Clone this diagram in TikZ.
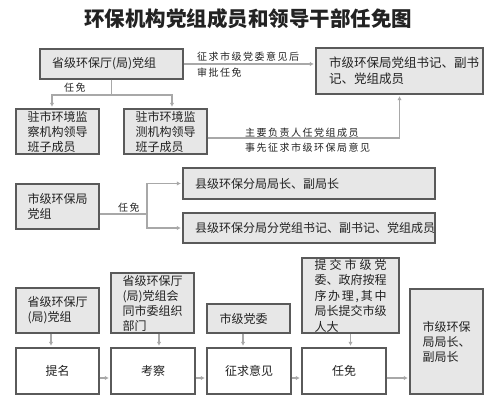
\documentclass[tikz,border=0pt]{standalone}
\usepackage{fontspec}
\newfontfamily\cjk{Noto Sans CJK SC}
\newfontfamily\cjklbl[LetterSpace=15]{Noto Sans CJK SC}
\usetikzlibrary{arrows.meta,calc}
\definecolor{ink}{HTML}{222222}
\definecolor{boxline}{HTML}{5A5A5A}
\definecolor{boxfill}{HTML}{E7E7E7}
\definecolor{linkgray}{HTML}{A8A8A8}
\tikzset{
  graybox/.style={rectangle, draw=boxline, line width=1.4pt, fill=boxfill, align=left, inner sep=0pt, text=ink, font=\cjk\fontsize{12}{15}\selectfont},
  whitebox/.style={graybox, fill=white, align=center},
  wire/.style={draw=linkgray, line width=1.3pt},
  link/.style={wire, -{Latex[length=4pt,width=4.5pt]}, shorten >=1.5pt},
  tag/.style={font=\cjklbl\fontsize{10}{12}\selectfont, text=ink, inner sep=0pt, anchor=west}
}

\begin{document}
\begin{tikzpicture}[x=1pt, y=-1pt]
  \useasboundingbox (0,0) rectangle (500,411);
  \node[font=\cjk\bfseries\fontsize{20.5}{24}\selectfont, text=ink] (title) at (248,19) {环保机构党组成员和领导干部任免图};

  % provincial level
  \node[graybox, minimum width=143, minimum height=30, text width=119] (prov) at (111.5,64) {省级环保厅(局)党组};
  \node[graybox, minimum width=167, minimum height=46, text width=141, font=\cjk\fontsize{12.5}{16}\selectfont] (citysec) at (399.5,71) {市级环保局党组书记、副书\\记、党组成员};
  \node[graybox, minimum width=83, minimum height=45, text width=60] (jiancha) at (57.5,131.5) {驻市环境监\\察机构领导\\班子成员};
  \node[graybox, minimum width=83, minimum height=45, text width=60] (jiance) at (165.5,131.5) {驻市环境监\\测机构领导\\班子成员};

  \coordinate (forkA) at (111.5,95);
  \draw[wire] (prov.south) -- (forkA);
  \draw[link] (forkA) -| ([xshift=-5.5pt]jiancha.north);
  \draw[link] (forkA) -| ([xshift=6.5pt]jiance.north);
  \draw[link] (prov.east) -- (prov.east -| citysec.west);
  \draw[link] ([yshift=-6.5pt]jiance.east) -| (citysec.south);

  \node[tag] at (64,88) {任免};
  \node[tag] at (197,57) {征求市级党委意见后};
  \node[tag] at (197,73) {审批任免};
  \node[tag] at (245,133) {主要负责人任党组成员};
  \node[tag] at (245,148) {事先征求市级环保局意见};

  % city level
  \node[graybox, minimum width=83, minimum height=45, text width=60] (cityparty) at (57.5,206.5) {市级环保局\\党组};
  \node[graybox, minimum width=252, minimum height=31, text width=228] (county1) at (309,183.5) {县级环保分局局长、副局长};
  \node[graybox, minimum width=252, minimum height=30, text width=228] (county2) at (309,228) {县级环保分局分党组书记、副书记、党组成员};

  \coordinate (forkB) at (147,214);
  \draw[wire] ([yshift=-7.5pt]cityparty.east) -- (forkB);
  \draw[link] (forkB) |- (county1.west);
  \draw[link] (forkB) |- (county2.west);
  \node[tag] at (118,208) {任免};

  % procedure
  \node[graybox, minimum width=83, minimum height=45, text width=60] (b1top) at (57.5,310.5) {省级环保厅\\(局)党组};
  \node[graybox, minimum width=83, minimum height=60, text width=60] (b2top) at (152.5,303) {省级环保厅\\(局)党组会\\同市委组织\\部门};
  \node[graybox, minimum width=83, minimum height=29, text width=58] (b3top) at (248.5,318.5) {市级党委};
  \node[graybox, minimum width=97, minimum height=75, text width=72, font=\cjk\fontsize{12}{15.5}\selectfont] (b4top) at (350.5,295.5)
    {\makebox[72pt][s]{提\hfill 交\hfill 市\hfill 级\hfill 党}\\委、政府按程\\\makebox[72pt][s]{序\hfill 办\hfill 理\hfill ,\hfill 其\hfill 中}\\局长提交市级\\人大};

  \node[whitebox, minimum width=83, minimum height=46] (nominate) at (57.5,371) {提名};
  \node[whitebox, minimum width=84, minimum height=46] (inspect) at (153,371) {考察};
  \node[whitebox, minimum width=84, minimum height=46] (consult) at (249,371) {征求意见};
  \node[whitebox, minimum width=84, minimum height=46] (appoint) at (344,371) {任免};
  \node[graybox, minimum width=73, minimum height=105, text width=48] (result) at (446.5,341.5) {市级环保\\\makebox[48pt][s]{局\hfill 局\hfill 长\hfill 、}\\副局长};

  \foreach \up/\down/\dx in {b1top/nominate/-6.5, b2top/inspect/6.5, b3top/consult/-5.5, b4top/appoint/0}
    \draw[link] ($(\up.south)+(\dx,0)$) -- ($(\up.south |- \down.north)+(\dx,0)$);
  \foreach \a/\b in {nominate/inspect, inspect/consult, consult/appoint, appoint/result}
    \draw[link] ($(\a.east)+(0,7)$) -- ($(\a.east -| \b.west)+(0,7)$);
\end{tikzpicture}
\end{document}
